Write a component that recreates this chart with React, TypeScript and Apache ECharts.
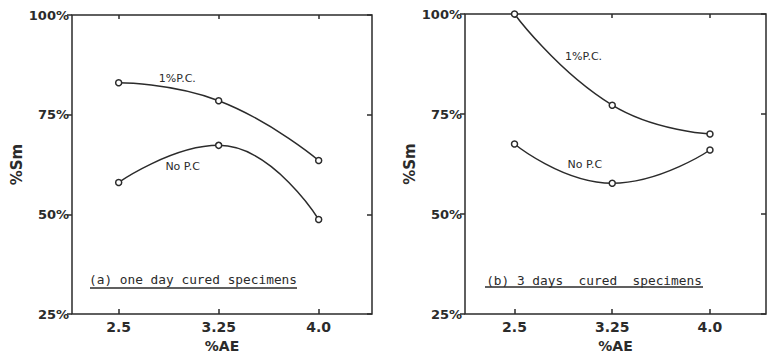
import React, { useEffect, useRef } from "react";
import * as echarts from "echarts";

const xValues = [2.5, 3.25, 4.0];
const xTickLabels = ["2.5", "3.25", "4.0"];
const yTicks = [25, 50, 75, 100];

// (a) one day cured specimens
const oneDayPC = [83, 78.5, 63.5];
const oneDayNoPC = [58, 67.3, 48.7];
// (b) 3 days cured specimens
const threeDayPC = [100, 77.2, 70];
const threeDayNoPC = [67.5, 57.7, 66];

const seriesNames = ["1%P.C.", "No P.C"];
const captions = ["(a) one day cured specimens", "(b) 3 days  cured  specimens"];

const INK = "#2b2b2b";
const FONT = "DejaVu Sans";
const MONO = "DejaVu Sans Mono";

export default function App() {
  const ref = useRef<HTMLDivElement>(null);
  useEffect(() => {
    if (!ref.current) return;
    const chart = echarts.init(ref.current, null, { renderer: "svg" });

    const grids = [
      { left: 72, top: 15, width: 300, height: 302 },
      { left: 465, top: 14, width: 301, height: 300 },
    ];
    const xRanges = [
      [2.15, 4.4],
      [2.12, 4.43],
    ];

    const xAxes: any[] = [];
    const yAxes: any[] = [];
    grids.forEach((_, gi) => {
      xAxes.push({
        type: "value",
        gridIndex: gi,
        position: "bottom",
        min: xRanges[gi][0],
        max: xRanges[gi][1],
        splitLine: { show: false },
        axisLine: { show: false },
        axisTick: { show: true, inside: true, length: 5, customValues: xValues, lineStyle: { color: INK, width: 1.5 } },
        axisLabel: {
          show: true,
          customValues: xValues,
          margin: 6,
          color: INK,
          fontFamily: FONT,
          fontWeight: "bold",
          fontSize: 14,
          formatter: (v: number) => {
            const i = xValues.findIndex((x) => Math.abs(x - v) < 1e-6);
            return i >= 0 ? xTickLabels[i] : "";
          },
        },
        name: "%AE",
        nameLocation: "middle",
        nameGap: 25,
        nameTextStyle: { color: INK, fontFamily: FONT, fontWeight: "bold", fontSize: 14 },
      });
      xAxes.push({
        type: "value",
        gridIndex: gi,
        position: "top",
        min: xRanges[gi][0],
        max: xRanges[gi][1],
        splitLine: { show: false },
        axisLine: { show: false },
        axisTick: { show: true, inside: true, length: 4, customValues: xValues, lineStyle: { color: INK, width: 1.5 } },
        axisLabel: { show: false },
      });
      yAxes.push({
        type: "value",
        gridIndex: gi,
        position: "left",
        min: 25,
        max: 100,
        interval: 25,
        splitLine: { show: false },
        axisLine: { show: false },
        axisTick: { show: true, inside: false, length: 5, lineStyle: { color: INK, width: 1.5 } },
        axisLabel: {
          show: true,
          margin: 3,
          color: INK,
          fontFamily: FONT,
          fontWeight: "bold",
          fontSize: 13,
          formatter: (v: number) => (yTicks.includes(v) ? v + "%" : ""),
        },
        name: "%Sm",
        nameLocation: "middle",
        nameRotate: 90,
        nameGap: gi === 0 ? 48 : 43,
        nameTextStyle: { color: INK, fontFamily: FONT, fontWeight: "bold", fontSize: 15 },
      });
      yAxes.push({
        type: "value",
        gridIndex: gi,
        position: "right",
        min: 25,
        max: 100,
        interval: 25,
        splitLine: { show: false },
        axisLine: { show: false },
        axisTick: { show: true, inside: true, length: 5, lineStyle: { color: INK, width: 1.5 } },
        axisLabel: { show: false },
      });
    });

    const mkSeries = (vals: number[], gi: number, label: string, labelCoord: number[]) => ({
      type: "line",
      name: label,
      xAxisIndex: gi * 2,
      yAxisIndex: gi * 2,
      data: xValues.map((x, i) => [x, vals[i]]),
      smooth: 0.5,
      clip: false,
      symbol: "circle",
      symbolSize: 6,
      itemStyle: { color: "#fff", borderColor: INK, borderWidth: 1.5 },
      lineStyle: { color: INK, width: 1.5 },
      markPoint: {
        symbol: "circle",
        symbolSize: 1,
        itemStyle: { color: "rgba(0,0,0,0)" },
        label: {
          show: true,
          position: "inside",
          formatter: label,
          color: INK,
          fontFamily: FONT,
          fontSize: 11,
        },
        data: [{ coord: labelCoord }],
      },
    });

    const series = [
      mkSeries(oneDayPC, 0, seriesNames[0], [2.94, 84]),
      mkSeries(oneDayNoPC, 0, seriesNames[1], [2.98, 62]),
      mkSeries(threeDayPC, 1, seriesNames[0], [3.03, 89.3]),
      mkSeries(threeDayNoPC, 1, seriesNames[1], [3.04, 62.5]),
    ];

    const captionEls = [
      { cx: 193, y: 279, x0: 90, x1: 297, ly: 288, text: captions[0] },
      { cx: 594, y: 280, x0: 485, x1: 703, ly: 287, text: captions[1] },
    ];
    const graphic: any[] = [];
    captionEls.forEach((c) => {
      graphic.push({
        type: "text",
        x: c.cx,
        y: c.y,
        style: {
          text: c.text,
          fill: INK,
          font: `12.8px "${MONO}"`,
          textAlign: "center",
          textVerticalAlign: "middle",
        },
      });
      graphic.push({
        type: "line",
        shape: { x1: c.x0, y1: c.ly, x2: c.x1, y2: c.ly },
        style: { stroke: INK, lineWidth: 1.5 },
      });
    });

    chart.setOption({
      animation: false,
      backgroundColor: "#fff",
      grid: grids.map((g) => ({ ...g, show: true, borderColor: INK, borderWidth: 1.5, backgroundColor: "transparent" })),
      xAxis: xAxes,
      yAxis: yAxes,
      series,
      graphic,
    });
    return () => chart.dispose();
  }, []);
  return (
    <div
      ref={ref}
      style={{ position: "fixed", left: 0, top: 0, width: 769, height: 358 }}
    />
  );
}
